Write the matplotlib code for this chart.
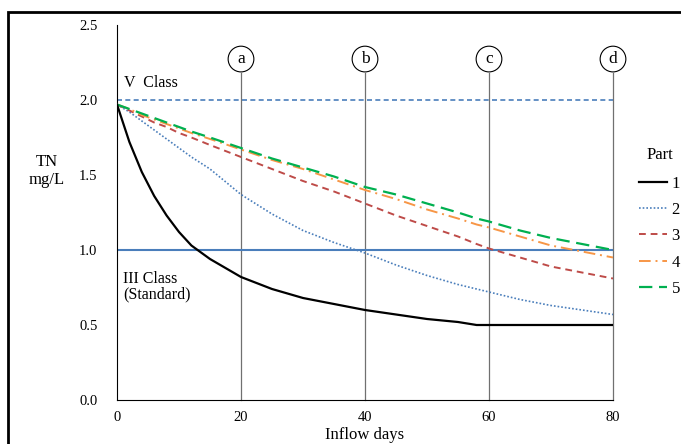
import matplotlib
matplotlib.use('Agg')
import matplotlib.pyplot as plt
from matplotlib.patches import Rectangle

plt.rcParams.update({
    'font.family': ['Liberation Serif', 'DejaVu Serif'],
    'font.size': 10,
})

# ── data ──
days = [0, 2, 4, 6, 8, 10, 12, 15, 20, 25, 30, 35, 40, 45, 50, 55, 58, 60, 65, 70, 75, 80]
part1 = [1.97, 1.72, 1.52, 1.36, 1.23, 1.12, 1.03, 0.94, 0.82, 0.74, 0.68, 0.64, 0.60,
         0.57, 0.54, 0.52, 0.50, 0.50, 0.50, 0.50, 0.50, 0.50]
part2 = [1.97, 1.92, 1.86, 1.80, 1.74, 1.68, 1.62, 1.54, 1.37, 1.24, 1.13, 1.05, 0.98,
         0.90, 0.83, 0.77, 0.74, 0.72, 0.67, 0.63, 0.60, 0.57]
part3 = [1.97, 1.93, 1.89, 1.85, 1.82, 1.78, 1.75, 1.70, 1.62, 1.54, 1.46, 1.39, 1.31,
         1.23, 1.16, 1.09, 1.04, 1.01, 0.95, 0.89, 0.85, 0.81]
part4 = [1.97, 1.94, 1.90, 1.87, 1.84, 1.81, 1.78, 1.74, 1.67, 1.60, 1.54, 1.47, 1.40,
         1.34, 1.27, 1.21, 1.17, 1.15, 1.09, 1.03, 0.99, 0.95]
part5 = [1.97, 1.94, 1.91, 1.88, 1.85, 1.82, 1.79, 1.75, 1.68, 1.61, 1.55, 1.49, 1.42,
         1.37, 1.31, 1.25, 1.21, 1.19, 1.13, 1.08, 1.04, 1.00]

class_v = 2.0
class_iii = 1.0
marker_days = [20, 40, 60, 80]
marker_labels = ['a', 'b', 'c', 'd']

# ── figure ──
fig = plt.figure(figsize=(6.81, 4.44), dpi=100)
ax = fig.add_axes([117 / 681, 1 - 400 / 444, 496 / 681, 375 / 444])

# outer frame
fig.patches.append(Rectangle((8 / 681, -0.2), 1.2, 1 - 12 / 444 + 0.2,
                             transform=fig.transFigure, fill=False,
                             edgecolor='black', linewidth=2, clip_on=False))

# class lines
ax.axhline(class_v, color='#4a7ebb', linestyle=(0, (3, 2)), linewidth=1.2, zorder=2)
ax.axhline(class_iii, color='#4a7ebb', linestyle='-', linewidth=1.5, zorder=2)
ax.text(1.2, 2.06, 'V  Class', fontsize=11.5, ha='left', va='bottom')
ax.text(1.0, 0.86, 'III Class\n(Standard)', fontsize=11.5, ha='left', va='top',
        linespacing=0.95)

# vertical markers
y_circ = 2.273
for d, lab in zip(marker_days, marker_labels):
    ax.plot([d, d], [0, y_circ - 0.09], color='#707070', linewidth=0.9, zorder=1,
            clip_on=False)
    ax.text(d, y_circ, lab, ha='center', va='center', fontsize=12.5,
            bbox=dict(boxstyle='circle,pad=0.28', facecolor='white',
                      edgecolor='black', linewidth=0.8))

# curves
ax.plot(days, part1, color='black', linewidth=1.6, label='1', zorder=5)
ax.plot(days, part2, color='#4a7ebb', linestyle=(0, (1, 1.2)), linewidth=1.2,
        label='2', zorder=4)
ax.plot(days, part3, color='#be4b48', linestyle=(0, (3.5, 2.5)), linewidth=1.4,
        label='3', zorder=4)
ax.plot(days, part4, color='#f79646', linestyle=(0, (6, 2.5, 1, 2.5)), linewidth=1.4,
        label='4', zorder=4)
ax.plot(days, part5, color='#00b050', linestyle=(0, (6, 3)), linewidth=1.6,
        label='5', zorder=4)

ax.set_xlim(0, 80)
ax.set_ylim(0, 2.5)
ax.set_xticks([0, 20, 40, 60, 80])
ax.set_yticks([0, 0.5, 1.0, 1.5, 2.0, 2.5])
ax.set_yticklabels(['0.0', '0.5', '1.0', '1.5', '2.0', '2.5'])
ax.tick_params(axis='both', length=0, labelsize=10.5)
ax.tick_params(axis='y', pad=14)
ax.tick_params(axis='x', pad=8)
ax.spines['top'].set_visible(False)
ax.spines['right'].set_visible(False)
ax.spines['left'].set_linewidth(0.8)
ax.spines['bottom'].set_linewidth(0.8)

ax.set_xlabel('Inflow days', fontsize=12, labelpad=2)
fig.text(47 / 681, 1 - 171 / 444, 'TN\nmg/L', ha='center', va='center', fontsize=12,
         linespacing=1.1)

leg = fig.legend(*ax.get_legend_handles_labels(), title='Part', loc='upper left',
                 bbox_to_anchor=(639 / 681, 1 - 147 / 444), frameon=False,
                 fontsize=12, title_fontsize=12, handlelength=1.7,
                 labelspacing=0.62, handletextpad=0.25, borderpad=0,
                 borderaxespad=0)
leg._legend_box.sep = 9

fig.savefig('out.png', dpi=100, facecolor='white')
